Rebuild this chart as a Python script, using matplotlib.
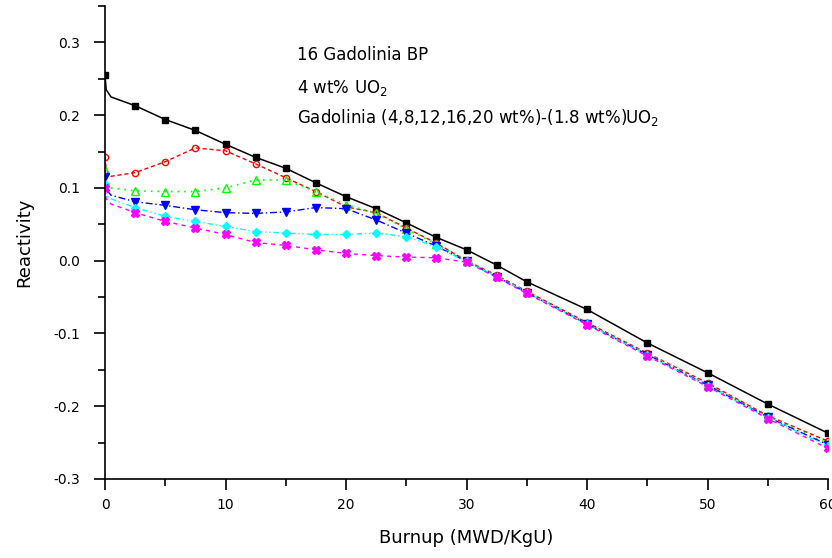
import matplotlib
matplotlib.use("Agg")
import matplotlib.pyplot as plt
from matplotlib.ticker import MultipleLocator, FormatStrFormatter

# burnup points (MWD/KgU)
burnup = [0, 0.1, 0.5, 2.5, 5, 7.5, 10, 12.5, 15, 17.5, 20, 22.5, 25, 27.5,
          30, 32.5, 35, 40, 45, 50, 55, 60]

# reactivity curves
ref_uo2 = [0.255, 0.235, 0.225, 0.213, 0.194, 0.179, 0.160, 0.142, 0.127, 0.107,
           0.088, 0.0715, 0.052, 0.032, 0.015, -0.006, -0.029, -0.067, -0.113,
           -0.154, -0.197, -0.237]
gd_4 = [0.143, 0.125, 0.116, 0.121, 0.136, 0.155, 0.151, 0.133, 0.114, 0.095,
        0.074, 0.066, 0.045, 0.024, 0.0, -0.020, -0.042, -0.085, -0.127,
        -0.168, -0.213, -0.248]
gd_8 = [0.125, 0.108, 0.100, 0.096, 0.095, 0.095, 0.100, 0.111, 0.111, 0.095,
        0.077, 0.065, 0.044, 0.023, 0.0, -0.021, -0.043, -0.086, -0.128,
        -0.170, -0.214, -0.251]
gd_12 = [0.115, 0.098, 0.090, 0.081, 0.076, 0.070, 0.066, 0.065, 0.067, 0.073,
         0.0715, 0.056, 0.038, 0.020, -0.001, -0.022, -0.044, -0.087, -0.129,
         -0.171, -0.215, -0.253]
gd_16 = [0.105, 0.090, 0.085, 0.073, 0.061, 0.054, 0.047, 0.040, 0.038, 0.036,
         0.036, 0.038, 0.033, 0.019, -0.001, -0.022, -0.044, -0.087, -0.130,
         -0.172, -0.216, -0.255]
gd_20 = [0.100, 0.085, 0.078, 0.066, 0.054, 0.045, 0.036, 0.025, 0.021, 0.015,
         0.010, 0.007, 0.005, 0.004, -0.002, -0.023, -0.045, -0.088, -0.131,
         -0.173, -0.217, -0.258]

fig = plt.figure(figsize=(8.32, 5.58), dpi=100)
ax = fig.add_axes([105 / 832, 79 / 558, 723 / 832, 473 / 558])

marks = [0] + list(range(3, len(burnup)))

ax.plot(burnup, ref_uo2, color="black", lw=1.1, ls="-", marker="s", ms=4,
        markevery=marks)
ax.plot(burnup, gd_4, color="#ff0000", lw=1, ls=(0, (3, 2)), marker="o", ms=4.5,
        mfc="none", markevery=marks)
ax.plot(burnup, gd_8, color="#00ff00", lw=1.2, ls=(0, (1, 3)), marker="^", ms=5.5,
        mfc="none", markevery=marks)
ax.plot(burnup, gd_12, color="#0000ff", lw=1, ls=(0, (5, 2, 1, 2)), marker="v",
        ms=5.5, markevery=marks)
ax.plot(burnup, gd_16, color="#00ffff", lw=1, ls=(0, (4, 2, 1, 2, 1, 2)), marker="D",
        ms=4.5, markevery=marks)
ax.plot(burnup, gd_20, color="#ff00ff", lw=1, ls=(0, (3, 3)), marker="X", ms=5.5,
        markevery=marks)

ax.set_xlim(0, 60)
ax.set_ylim(-0.3, 0.35)
ax.spines["top"].set_visible(False)
ax.spines["right"].set_visible(False)
ax.spines["left"].set_linewidth(1.2)
ax.spines["bottom"].set_linewidth(1.2)

ax.xaxis.set_major_locator(MultipleLocator(10))
ax.xaxis.set_minor_locator(MultipleLocator(5))
ax.yaxis.set_major_locator(MultipleLocator(0.1))
ax.yaxis.set_minor_locator(MultipleLocator(0.05))
ax.yaxis.set_major_formatter(FormatStrFormatter("%.1f"))
ax.tick_params(which="major", direction="out", length=8, width=1.2, labelsize=10)
ax.tick_params(which="minor", direction="out", length=5, width=1.2)
ax.tick_params(axis="y", pad=10)
ax.tick_params(axis="x", pad=6)

ax.set_xlabel("Burnup (MWD/KgU)", fontsize=13, labelpad=12)
ax.set_ylabel("Reactivity", fontsize=13, labelpad=14)

txt = dict(fontsize=12, ha="left", va="baseline")
ax.text(15.9, 0.276, "16 Gadolinia BP", **txt)
ax.text(15.9, 0.231, r"4 wt% UO$_2$", **txt)
ax.text(15.9, 0.189, r"Gadolinia (4,8,12,16,20 wt%)-(1.8 wt%)UO$_2$", **txt)

fig.savefig("out.png", dpi=100)
